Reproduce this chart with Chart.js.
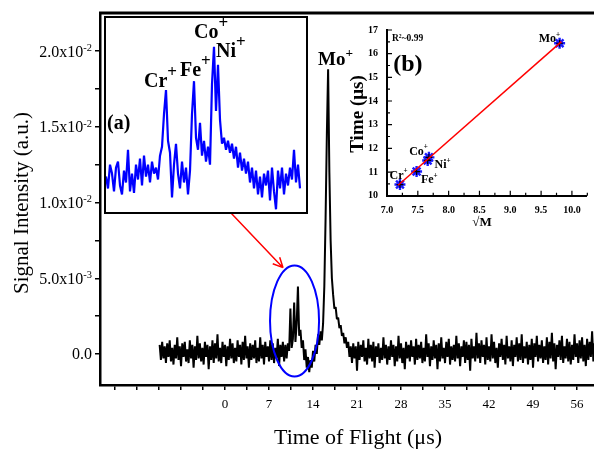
<!DOCTYPE html>
<html>
<head>
<meta charset="utf-8">
<script src="https://cdn.jsdelivr.net/npm/chart.js@4.4.1/dist/chart.umd.min.js"></script>
<style>
  html, body { margin: 0; padding: 0; background: #fff; }
  #wrap { position: relative; width: 594px; height: 449px; overflow: hidden; }
  #main { position: absolute; left: 0; top: 0; }
  #boxA { position: absolute; left: 104px; top: 16px; width: 200px; height: 194px; border: 2px solid #000; background: #fff; }
  #insetA { display: block; }
  #insetB { position: absolute; left: 340px; top: 15px; }
</style>
</head>
<body>
<div id="wrap">
  <canvas id="main" width="594" height="449"></canvas>
  <div id="boxA"><canvas id="insetA" width="200" height="194"></canvas></div>
  <canvas id="insetB" width="254" height="222"></canvas>
</div>
<script>
// --- DATA ---

// main time-of-flight trace, sampled every 0.2 us from -10.4 us (signal in units of 1e-3)
const tofStart = -10.4;
const tofStep = 0.2;
const tofSignal = [
  0.6,-0.4,0.8,-0.3,0.5,-0.6,0.7,-0.2,0.9,-0.5,
  0.4,-0.7,0.6,-0.3,1.1,-0.4,0.5,-0.8,0.7,-0.2,
  0.8,-0.5,0.3,-0.6,0.9,-0.3,0.6,-0.9,0.5,-0.4,
  1.2,-0.3,0.7,-0.5,0.4,-0.7,0.8,-0.2,0.6,-1.0,
  0.5,-0.4,0.9,-0.6,0.7,-0.3,1.3,-0.5,0.4,-0.6,
  0.8,-0.2,0.6,-0.8,0.5,-0.4,1.0,-0.3,0.7,-0.6,
  0.4,-0.5,0.9,-0.2,0.6,-0.7,0.8,-0.4,1.2,-0.3,
  0.5,-0.9,0.7,-0.4,0.6,-0.3,0.9,-0.6,0.4,-0.5,
  1.1,-0.3,0.6,-0.7,0.8,-0.2,0.5,-0.5,0.9,-0.4,
  0.7,-0.6,0.4,-0.3,1.0,-0.8,0.6,-0.2,0.8,-0.5,
  // 9.6 .. 20.0 us : Cr/Fe/Co-Ni spikes, dip, Mo peak
  0.6,-0.3,0.7,0.2,3.0,0.4,1.0,3.4,0.8,2.0,
  4.45,1.2,1.6,0.4,0.9,-0.4,0.3,-0.9,-0.2,-1.2,
  -0.4,-0.9,0.2,-0.5,0.6,0.0,1.3,0.6,1.5,0.9,
  2.0,4.5,9.0,14.5,18.8,12.0,7.5,5.0,3.9,3.0,
  3.1,2.3,2.4,1.7,1.9,1.2,1.4,0.7,1.1,0.4,
  0.8,-0.2,0.5,
  // 20.2 .. 58.8 us
  -0.6,0.7,-0.3,0.5,-1.1,0.8,-0.4,0.6,-0.2,0.9,
  -0.5,0.4,-0.7,1.0,-0.3,0.6,-0.5,0.8,-0.9,0.5,
  -0.2,0.7,-0.6,0.4,-0.4,1.1,-0.3,0.6,-0.7,0.5,
  -0.4,0.9,-0.2,0.6,-0.8,0.5,-0.5,1.2,-0.3,0.7,
  -0.6,0.4,-1.0,0.8,-0.3,0.6,-0.5,0.9,-0.2,0.5,
  -0.7,1.0,-0.4,0.6,-0.3,0.8,-0.6,0.4,-0.5,1.3,
  -0.2,0.7,-0.8,0.5,-0.4,0.9,-0.3,0.6,-1.0,0.7,
  -0.5,1.1,-0.3,0.4,-0.6,0.8,-0.2,1.0,-0.7,0.5,
  -0.4,0.6,-0.5,1.2,-0.3,0.7,-0.8,0.5,-0.2,0.9,
  -0.6,0.8,-0.4,0.6,-1.1,1.0,-0.3,0.5,-0.5,1.4,
  -0.3,0.7,-0.6,0.9,-0.2,0.6,-0.7,1.1,-0.4,0.5,
  -0.5,1.3,-0.3,0.8,-0.6,0.4,-0.9,0.7,-0.2,1.0,
  -0.4,0.6,-0.7,1.2,-0.3,0.5,-0.5,0.9,-0.8,0.6,
  -0.2,1.1,-0.5,0.7,-0.4,1.3,-0.6,0.5,-0.3,0.8,
  -0.7,0.6,-0.4,1.0,-0.9,0.7,-0.2,1.2,-0.5,0.6,
  -0.3,0.9,-0.6,0.5,-0.4,1.1,-0.7,0.8,-0.3,1.4,
  -0.5,0.7,-1.0,0.6,-0.2,0.9,-0.4,1.2,-0.6,0.5,
  -0.3,1.0,-0.5,0.8,-0.7,0.6,-0.4,1.3,-0.2,0.7,
  -0.6,0.9,-0.3,1.1,-0.5,0.6,-0.8,1.0,-0.4,0.8,
  -0.2,1.5,-0.5,0.7
];

const xTickValues = [-17.5,-14,-10.5,-7,-3.5,0,3.5,7,10.5,14,17.5,21,24.5,28,31.5,35,38.5,42,45.5,49,52.5,56];
const xTickLabels = ['','','','','','0','','7','','14','','21','','28','','35','','42','','49','','56'];
const yTickValues = [0,2.5,5,7.5,10,12.5,15,17.5,20];
const yTickLabels = ['0.0','','5.0x10{-3}','','1.0x10{-2}','','1.5x10{-2}','','2.0x10{-2}'];

// inset (a): zoom of the 9.2-13.4 us region, one value per channel (units of 1e-3)
const insetSignal = [
  0.1,-0.3,0.5,0.2,-0.4,0.4,0.6,-0.2,-0.5,0.3,
  -0.1,1.0,-0.4,0.2,-0.45,0.5,0.0,0.7,-0.2,0.8,
  0.1,0.5,-0.1,0.6,0.2,0.4,0.0,0.8,1.1,2.2,
  3.0,1.3,0.9,-0.6,0.5,1.2,0.2,-0.3,0.6,-0.1,
  0.4,-0.5,0.3,2.2,3.3,1.4,1.0,1.9,0.8,1.3,
  0.6,1.1,0.5,3.2,4.45,2.3,3.85,2.0,1.2,1.4,
  1.0,1.3,0.9,1.2,0.7,1.1,0.4,0.9,0.3,0.7,
  0.2,0.6,-0.1,0.4,-0.3,0.3,-0.5,0.1,-0.6,0.2,
  -0.2,0.3,-0.7,0.4,-0.4,-1.0,0.3,-0.3,0.4,-0.5,
  0.2,-0.2,0.4,0.0,1.0,-0.1,0.5,-0.3
];

// inset (b): flight time vs sqrt(mass)
const ionLabels = ['Cr{+}','Fe{+}','Co{+}','Ni{+}','Mo{+}'];
const sqrtMass = [7.21, 7.48, 7.68, 7.66, 9.80];
const flightTime = [10.47, 11.02, 11.62, 11.49, 16.44];
const fitX = [7.18, 9.83];
const fitY = [10.44, 16.51];
const bXTickValues = [7.0,7.5,8.0,8.5,9.0,9.5,10.0];
const bXTickLabels = ['7.0','7.5','8.0','8.5','9.0','9.5','10.0'];
const bYTickValues = [10,11,12,13,14,15,16,17];
const bYTickLabels = ['10','11','12','13','14','15','16','17'];

// annotation placement (data coordinates)
const ellipseCenter = [11.06, 2.18];
const ellipseRadius = [3.9, 3.67];
const arrowFrom = [0.95, 9.31];
const arrowTo = [9.23, 5.70];
const moLabelAt = [14.8, 19.1];
const insetLabels = ['Cr{+}','Fe{+}','Co{+}','Ni{+}','(a)'];
const insetLabelAt = [[19, 3.1],[37, 3.47],[44, 4.75],[55, 4.11],[0.5, 1.69]];
const bLabelAt = [[7.04,10.72],[7.55,10.52],[7.36,11.74],[7.77,11.17],[9.46,16.48]];

// --- HELPERS ---

const $ = (id) => document.getElementById(id);
const SERIF = '"Liberation Serif", "Times New Roman", serif';

// text with {superscript} parts
function drawRich(ctx, text, x, y, opt) {
  const size = opt.size, weight = opt.weight || 'normal';
  const supScale = opt.supScale || 0.7, rise = opt.rise || 0.4;
  const parts = text.split(/[{}]/);
  const fonts = parts.map((p, i) => `${weight} ${i % 2 ? size * supScale : size}px ${SERIF}`);
  const widths = parts.map((p, i) => { ctx.font = fonts[i]; return ctx.measureText(p).width; });
  const total = widths.reduce((a, b) => a + b, 0);
  let cx = opt.align === 'right' ? x - total : opt.align === 'center' ? x - total / 2 : x;
  ctx.textAlign = 'left';
  ctx.textBaseline = 'alphabetic';
  ctx.fillStyle = '#000';
  parts.forEach((p, i) => {
    ctx.font = fonts[i];
    ctx.fillText(p, cx, i % 2 ? y - size * rise : y);
    cx += widths[i];
  });
}

function drawRotated(ctx, text, x, y, font) {
  ctx.save();
  ctx.translate(x, y);
  ctx.rotate(-Math.PI / 2);
  ctx.font = font;
  ctx.fillStyle = '#000';
  ctx.textAlign = 'center';
  ctx.textBaseline = 'middle';
  ctx.fillText(text, 0, 0);
  ctx.restore();
}

// --- MAIN CHART ---

const mainDecor = {
  id: 'mainDecor',
  afterDatasetsDraw(chart) {
    const { ctx, scales: { x, y } } = chart;
    ctx.save();
    const cx = x.getPixelForValue(ellipseCenter[0]);
    const cy = y.getPixelForValue(ellipseCenter[1]);
    const rx = x.getPixelForValue(ellipseCenter[0] + ellipseRadius[0]) - cx;
    const ry = cy - y.getPixelForValue(ellipseCenter[1] + ellipseRadius[1]);
    ctx.beginPath();
    ctx.ellipse(cx, cy, rx, ry, 0, 0, Math.PI * 2);
    ctx.strokeStyle = '#0000ff';
    ctx.lineWidth = 2;
    ctx.stroke();

    const x0 = x.getPixelForValue(arrowFrom[0]), y0 = y.getPixelForValue(arrowFrom[1]);
    const x1 = x.getPixelForValue(arrowTo[0]), y1 = y.getPixelForValue(arrowTo[1]);
    const ang = Math.atan2(y1 - y0, x1 - x0);
    ctx.beginPath();
    ctx.moveTo(x0, y0);
    ctx.lineTo(x1, y1);
    [0.45, -0.45].forEach(d => {
      ctx.moveTo(x1, y1);
      ctx.lineTo(x1 - 11 * Math.cos(ang + d), y1 - 11 * Math.sin(ang + d));
    });
    ctx.strokeStyle = '#ff0000';
    ctx.lineWidth = 1.5;
    ctx.stroke();

    drawRich(ctx, 'Mo{+}', x.getPixelForValue(moLabelAt[0]), y.getPixelForValue(moLabelAt[1]),
      { size: 19, weight: 'bold', supScale: 0.7, rise: 0.42 });
    ctx.restore();
  },
  afterDraw(chart) {
    const { ctx, chartArea: a, scales: { y } } = chart;
    ctx.save();
    ctx.beginPath();
    ctx.moveTo(a.left - 1, a.top);
    ctx.lineTo(a.right, a.top);
    ctx.strokeStyle = '#000';
    ctx.lineWidth = 3;
    ctx.stroke();

    yTickValues.forEach((v, i) => {
      if (yTickLabels[i]) {
        drawRich(ctx, yTickLabels[i], a.left - 8, y.getPixelForValue(v) + 5.5,
          { size: 16, supScale: 0.65, rise: 0.36, align: 'right' });
      }
    });

    ctx.font = `22px ${SERIF}`;
    ctx.fillStyle = '#000';
    ctx.textAlign = 'center';
    ctx.textBaseline = 'middle';
    ctx.fillText('Time of Flight (\u03bcs)', 358, 438);
    drawRotated(ctx, 'Signal Intensity (a.u.)', 22, 203, `21px ${SERIF}`);
    ctx.restore();
  }
};

const tofPoints = tofSignal.map((v, i) => ({ x: tofStart + i * tofStep, y: v }));

new Chart($('main'), {
  type: 'line',
  data: { datasets: [{ data: tofPoints, borderColor: '#000', borderWidth: 2, borderJoinStyle: 'bevel', pointRadius: 0, tension: 0 }] },
  options: {
    responsive: false,
    animation: false,
    layout: { padding: { top: 13, left: 0, right: 0, bottom: 0 } },
    plugins: { legend: { display: false }, tooltip: { enabled: false } },
    scales: {
      x: {
        type: 'linear', min: -19.89, max: 58.7,
        afterFit: (s) => { s.height = 64; },
        afterBuildTicks: (s) => { s.ticks = xTickValues.map(v => ({ value: v })); },
        ticks: { callback: (v, i) => xTickLabels[i], autoSkip: false, maxRotation: 0, padding: 7,
                 color: '#000', font: { family: SERIF, size: 13 } },
        grid: { drawOnChartArea: false, tickLength: 5, color: '#000', lineWidth: 1.5 },
        border: { color: '#000', width: 2.5 }
      },
      y: {
        min: -2.05, max: 22.52,
        afterFit: (s) => { s.width = 100; },
        afterBuildTicks: (s) => { s.ticks = yTickValues.map(v => ({ value: v })); },
        ticks: { callback: () => '', autoSkip: false },
        grid: { drawOnChartArea: false, tickLength: 5, color: '#000', lineWidth: 1.5 },
        border: { color: '#000', width: 2.5 }
      }
    }
  },
  plugins: [mainDecor]
});

// --- INSET (a) ---

const insetDecor = {
  id: 'insetDecor',
  afterDraw(chart) {
    const { ctx, scales: { x, y } } = chart;
    ctx.save();
    insetLabels.forEach((t, i) => {
      drawRich(ctx, t, x.getPixelForValue(insetLabelAt[i][0]), y.getPixelForValue(insetLabelAt[i][1]),
        { size: 20, weight: 'bold', supScale: 0.85, rise: 0.5 });
    });
    ctx.restore();
  }
};

new Chart($('insetA'), {
  type: 'line',
  data: { datasets: [{ data: insetSignal.map((v, i) => ({ x: i, y: v })), borderColor: '#0000ff', borderWidth: 2.2,
                       borderJoinStyle: 'bevel', pointRadius: 0, tension: 0 }] },
  options: {
    responsive: false,
    animation: false,
    layout: { padding: 0 },
    plugins: { legend: { display: false }, tooltip: { enabled: false } },
    scales: {
      x: { type: 'linear', min: 0, max: 100, display: false },
      y: { min: -1.09, max: 5.42, display: false }
    }
  },
  plugins: [insetDecor]
});

// --- INSET (b) ---

const fitDecor = {
  id: 'fitDecor',
  afterDraw(chart) {
    const { ctx, chartArea: a, scales: { x, y } } = chart;
    ctx.save();
    ctx.strokeStyle = '#000';
    ctx.lineWidth = 1.2;
    ctx.beginPath();
    for (let v = 7.0; v <= 10.25; v += 0.25) {
      const px = x.getPixelForValue(v);
      const len = Math.abs(v * 2 - Math.round(v * 2)) < 1e-6 ? 5 : 3;
      ctx.moveTo(px, a.bottom);
      ctx.lineTo(px, a.bottom - len);
    }
    for (let v = 10; v <= 17; v += 0.5) {
      const py = y.getPixelForValue(v);
      const len = Number.isInteger(v) ? 5 : 3;
      ctx.moveTo(a.left, py);
      ctx.lineTo(a.left + len, py);
    }
    ctx.stroke();

    ionLabels.forEach((t, i) => {
      drawRich(ctx, t, x.getPixelForValue(bLabelAt[i][0]), y.getPixelForValue(bLabelAt[i][1]),
        { size: 12, weight: 'bold', supScale: 0.6, rise: 0.45 });
    });
    drawRich(ctx, 'R{2}~0.99', x.getPixelForValue(7.08), y.getPixelForValue(16.52),
      { size: 9.5, weight: 'bold', supScale: 0.6, rise: 0.4 });
    drawRich(ctx, '(b)', x.getPixelForValue(7.10), y.getPixelForValue(15.25), { size: 24, weight: 'bold' });

    drawRotated(ctx, 'Time (\u03bcs)', 18, 99, `bold 19px ${SERIF}`);
    ctx.font = `bold 13px ${SERIF}`;
    ctx.textAlign = 'center';
    ctx.textBaseline = 'middle';
    ctx.fillText('\u221aM', 142, 208);
    ctx.restore();
  }
};

const bTickFont = { family: SERIF, size: 10, weight: 'bold' };

new Chart($('insetB'), {
  type: 'scatter',
  data: {
    datasets: [
      { type: 'line', data: fitX.map((v, i) => ({ x: v, y: fitY[i] })), borderColor: '#ff0000', borderWidth: 1.5,
        pointRadius: 0, order: 0 },
      { data: sqrtMass.map((v, i) => ({ x: v, y: flightTime[i] })), pointStyle: 'cross', pointRadius: 3.5,
        pointBorderColor: '#000', pointBorderWidth: 1.2, order: 1 },
      { data: sqrtMass.map((v, i) => ({ x: v, y: flightTime[i] })), pointStyle: 'star', pointRadius: 5.5,
        pointBorderColor: '#1a1aff', pointBackgroundColor: '#1a1aff', pointBorderWidth: 2.4, order: 2 }
    ]
  },
  options: {
    responsive: false,
    animation: false,
    layout: { padding: { top: 9.3, left: 0, right: 0, bottom: 0 } },
    plugins: { legend: { display: false }, tooltip: { enabled: false } },
    scales: {
      x: {
        type: 'linear', min: 7.0, max: 10.23,
        afterFit: (s) => { s.height = 41.3; },
        afterBuildTicks: (s) => { s.ticks = bXTickValues.map(v => ({ value: v })); },
        ticks: { callback: (v, i) => bXTickLabels[i], autoSkip: false, maxRotation: 0, padding: 9,
                 color: '#000', font: bTickFont },
        grid: { display: false, drawTicks: false },
        border: { color: '#000', width: 2 }
      },
      y: {
        min: 10, max: 17,
        afterFit: (s) => { s.width = 47; },
        afterBuildTicks: (s) => { s.ticks = bYTickValues.map(v => ({ value: v })); },
        ticks: { callback: (v, i) => bYTickLabels[i], autoSkip: false, padding: 9, color: '#000', font: bTickFont },
        grid: { display: false, drawTicks: false },
        border: { color: '#000', width: 2 }
      }
    }
  },
  plugins: [fitDecor]
});
</script>
</body>
</html>
